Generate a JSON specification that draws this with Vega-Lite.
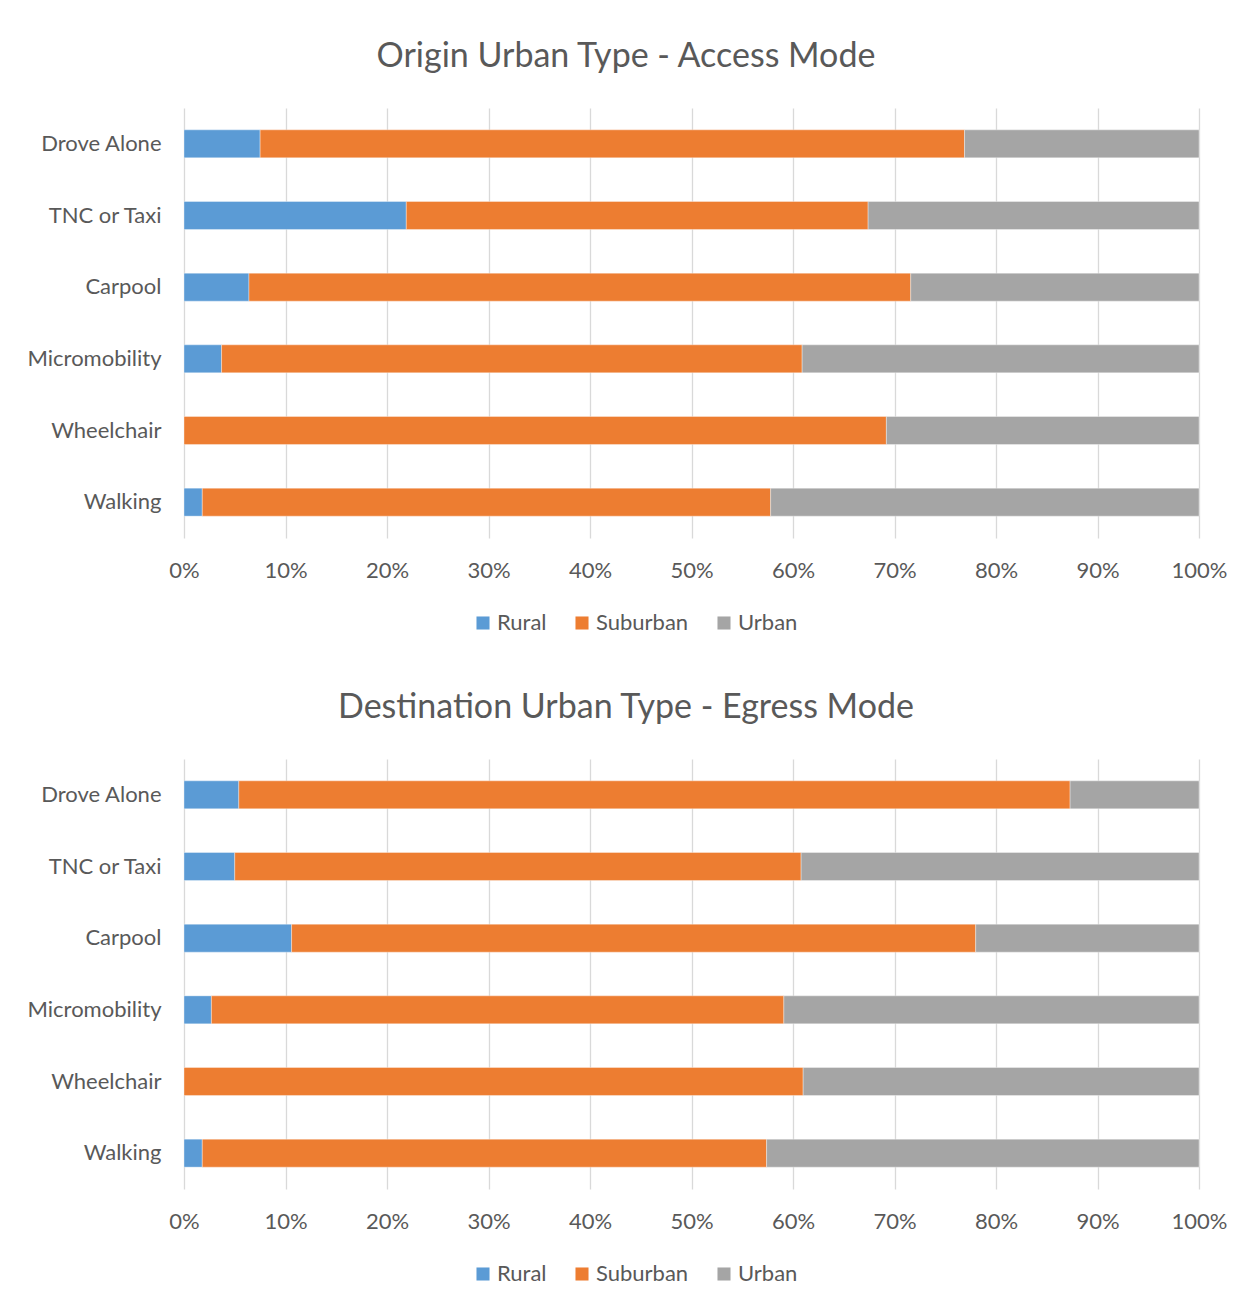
{
  "$schema": "https://vega.github.io/schema/vega-lite/v6.json",
  "padding": {"left": 25, "top": 40, "right": 0, "bottom": 0},
  "background": "white",
  "config": {
    "font": "Lato",
    "view": {"stroke": null},
    "axis": {"labelFont": "Lato", "labelColor": "#595959", "labelFontSize": 22, "gridColor": "#d9d9d9", "gridWidth": 1.3, "domain": false, "ticks": false, "title": null},
    "legend": {"labelFont": "Lato", "labelColor": "#595959", "labelFontSize": 22, "symbolType": "square", "symbolSize": 170, "symbolStrokeWidth": 0, "title": null, "direction": "horizontal", "labelOffset": 3, "columnPadding": 24},
    "title": {"font": "Lato", "fontSize": 34, "fontWeight": "normal", "color": "#595959", "anchor": "middle", "frame": "bounds"}
  },
  "datasets": {
    "shares": [
      {"panel": "origin", "mode": "Drove Alone", "type": "Rural", "k": 1, "pct": 7.5},
      {"panel": "origin", "mode": "Drove Alone", "type": "Suburban", "k": 2, "pct": 69.4},
      {"panel": "origin", "mode": "Drove Alone", "type": "Urban", "k": 3, "pct": 23.1},
      {"panel": "origin", "mode": "TNC or Taxi", "type": "Rural", "k": 1, "pct": 21.9},
      {"panel": "origin", "mode": "TNC or Taxi", "type": "Suburban", "k": 2, "pct": 45.5},
      {"panel": "origin", "mode": "TNC or Taxi", "type": "Urban", "k": 3, "pct": 32.6},
      {"panel": "origin", "mode": "Carpool", "type": "Rural", "k": 1, "pct": 6.4},
      {"panel": "origin", "mode": "Carpool", "type": "Suburban", "k": 2, "pct": 65.2},
      {"panel": "origin", "mode": "Carpool", "type": "Urban", "k": 3, "pct": 28.4},
      {"panel": "origin", "mode": "Micromobility", "type": "Rural", "k": 1, "pct": 3.7},
      {"panel": "origin", "mode": "Micromobility", "type": "Suburban", "k": 2, "pct": 57.2},
      {"panel": "origin", "mode": "Micromobility", "type": "Urban", "k": 3, "pct": 39.1},
      {"panel": "origin", "mode": "Wheelchair", "type": "Rural", "k": 1, "pct": 0},
      {"panel": "origin", "mode": "Wheelchair", "type": "Suburban", "k": 2, "pct": 69.2},
      {"panel": "origin", "mode": "Wheelchair", "type": "Urban", "k": 3, "pct": 30.8},
      {"panel": "origin", "mode": "Walking", "type": "Rural", "k": 1, "pct": 1.8},
      {"panel": "origin", "mode": "Walking", "type": "Suburban", "k": 2, "pct": 56.0},
      {"panel": "origin", "mode": "Walking", "type": "Urban", "k": 3, "pct": 42.2},
      {"panel": "destination", "mode": "Drove Alone", "type": "Rural", "k": 1, "pct": 5.4},
      {"panel": "destination", "mode": "Drove Alone", "type": "Suburban", "k": 2, "pct": 81.9},
      {"panel": "destination", "mode": "Drove Alone", "type": "Urban", "k": 3, "pct": 12.7},
      {"panel": "destination", "mode": "TNC or Taxi", "type": "Rural", "k": 1, "pct": 5.0},
      {"panel": "destination", "mode": "TNC or Taxi", "type": "Suburban", "k": 2, "pct": 55.8},
      {"panel": "destination", "mode": "TNC or Taxi", "type": "Urban", "k": 3, "pct": 39.2},
      {"panel": "destination", "mode": "Carpool", "type": "Rural", "k": 1, "pct": 10.6},
      {"panel": "destination", "mode": "Carpool", "type": "Suburban", "k": 2, "pct": 67.4},
      {"panel": "destination", "mode": "Carpool", "type": "Urban", "k": 3, "pct": 22.0},
      {"panel": "destination", "mode": "Micromobility", "type": "Rural", "k": 1, "pct": 2.7},
      {"panel": "destination", "mode": "Micromobility", "type": "Suburban", "k": 2, "pct": 56.4},
      {"panel": "destination", "mode": "Micromobility", "type": "Urban", "k": 3, "pct": 40.9},
      {"panel": "destination", "mode": "Wheelchair", "type": "Rural", "k": 1, "pct": 0},
      {"panel": "destination", "mode": "Wheelchair", "type": "Suburban", "k": 2, "pct": 61.0},
      {"panel": "destination", "mode": "Wheelchair", "type": "Urban", "k": 3, "pct": 39.0},
      {"panel": "destination", "mode": "Walking", "type": "Rural", "k": 1, "pct": 1.8},
      {"panel": "destination", "mode": "Walking", "type": "Suburban", "k": 2, "pct": 55.6},
      {"panel": "destination", "mode": "Walking", "type": "Urban", "k": 3, "pct": 42.6}
    ]
  },
  "data": {"name": "shares"},
  "spacing": 57,
  "resolve": {"legend": {"color": "independent"}},
  "vconcat": [
    {
      "title": {"text": "Origin Urban Type - Access Mode", "offset": 34},
      "width": 1015,
      "height": 430,
      "transform": [{"filter": "datum.panel === 'origin'"}],
      "mark": {"type": "bar", "stroke": "white", "strokeWidth": 0.6, "strokeOpacity": 0.6},
      "encoding": {
        "y": {"field": "mode", "type": "nominal", "sort": ["Drove Alone", "TNC or Taxi", "Carpool", "Micromobility", "Wheelchair", "Walking"], "scale": {"paddingInner": 0.61, "paddingOuter": 0.305}, "axis": {"labelPadding": 23, "minExtent": 159, "maxExtent": 159, "grid": false}},
        "x": {"field": "pct", "type": "quantitative", "stack": "normalize", "scale": {"domain": [0, 1]}, "axis": {"format": ".0%", "values": [0, 0.1, 0.2, 0.3, 0.4, 0.5, 0.6, 0.7, 0.8, 0.9, 1], "labelPadding": 22, "labelFlush": false}},
        "color": {"field": "type", "type": "nominal", "scale": {"domain": ["Rural", "Suburban", "Urban"], "range": ["#5b9bd5", "#ed7d31", "#a5a5a5"]}, "legend": {"orient": "none", "legendX": 288, "legendY": 504}},
        "order": {"field": "k", "type": "quantitative"}
      }
    },
    {
      "title": {"text": "Destination Urban Type - Egress Mode", "offset": 34},
      "width": 1015,
      "height": 430,
      "transform": [{"filter": "datum.panel === 'destination'"}],
      "mark": {"type": "bar", "stroke": "white", "strokeWidth": 0.6, "strokeOpacity": 0.6},
      "encoding": {
        "y": {"field": "mode", "type": "nominal", "sort": ["Drove Alone", "TNC or Taxi", "Carpool", "Micromobility", "Wheelchair", "Walking"], "scale": {"paddingInner": 0.61, "paddingOuter": 0.305}, "axis": {"labelPadding": 23, "minExtent": 159, "maxExtent": 159, "grid": false}},
        "x": {"field": "pct", "type": "quantitative", "stack": "normalize", "scale": {"domain": [0, 1]}, "axis": {"format": ".0%", "values": [0, 0.1, 0.2, 0.3, 0.4, 0.5, 0.6, 0.7, 0.8, 0.9, 1], "labelPadding": 22, "labelFlush": false}},
        "color": {"field": "type", "type": "nominal", "scale": {"domain": ["Rural", "Suburban", "Urban"], "range": ["#5b9bd5", "#ed7d31", "#a5a5a5"]}, "legend": {"orient": "none", "legendX": 288, "legendY": 504}},
        "order": {"field": "k", "type": "quantitative"}
      }
    }
  ]
}
